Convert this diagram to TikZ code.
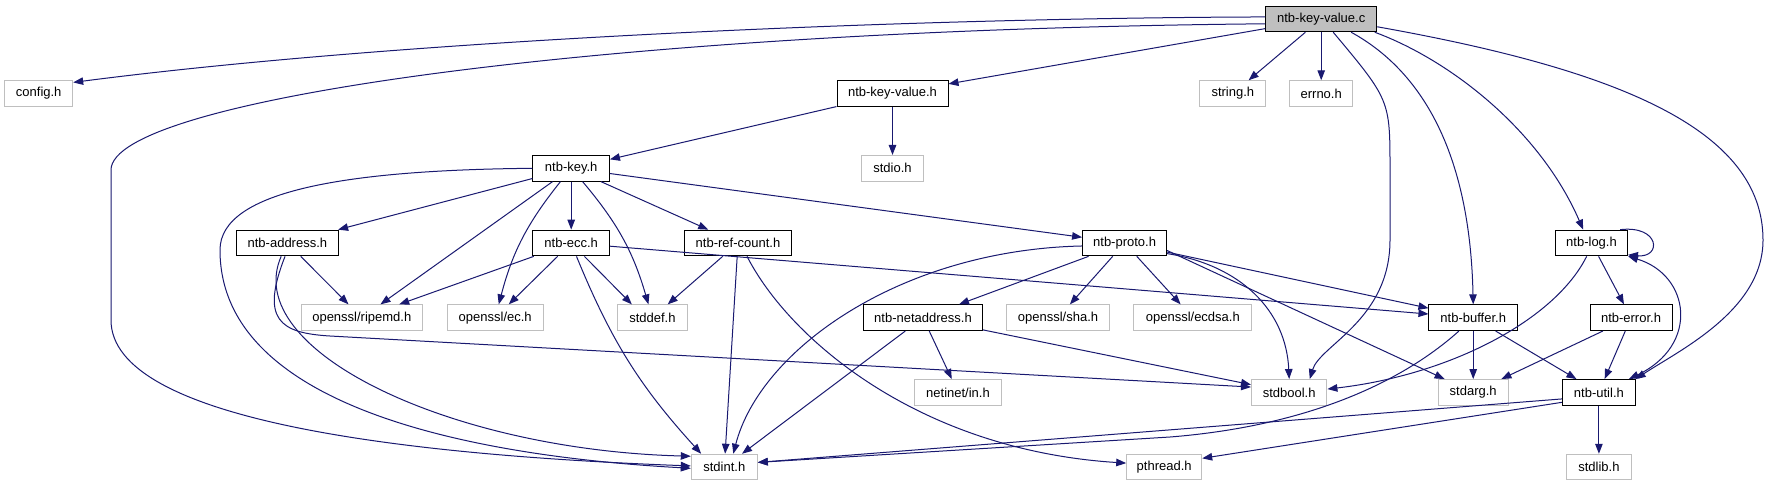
\documentclass[tikz,border=0pt]{standalone}
\usepackage{fontspec}
\setmainfont{Liberation Sans}
\usepackage{tikz}
\usetikzlibrary{arrows.meta,positioning}
\definecolor{edge}{HTML}{191970}
\definecolor{extgrey}{HTML}{BFBFBF}
\tikzset{
  >={Triangle[length=10pt,width=7.5pt]},
  dep/.style={->,draw=edge,line width=1pt},
  hdr/.style={draw=black,line width=1pt,fill=white,minimum height=25.7pt,
    inner sep=0pt,font=\fontsize{13}{15}\selectfont},
  exthdr/.style={hdr,draw=extgrey},
  curhdr/.style={hdr,fill=extgrey}
}
\begin{document}
\begin{tikzpicture}[x=1pt,y=1pt,on grid]
  \path[use as bounding box,fill=white] (0,0) rectangle (1766,-485);
  \node[curhdr,minimum width=111pt] (kvc) at (1321.2,-18.9) {ntb-key-value.c};
  \node[exthdr,minimum width=68pt,below left=74.7pt and 1282.5pt of kvc] (config) {config.h};
  \node[hdr,minimum width=111pt,right=853.8pt of config] (kvh) {ntb-key-value.h};
  \node[exthdr,minimum width=66pt,right=340.3pt of kvh] (strh) {string.h};
  \node[exthdr,minimum width=63pt,below=74.7pt of kvc] (errno) {errno.h};
  \node[exthdr,minimum width=62pt,below=74.7pt of kvh] (stdio) {stdio.h};
  \node[hdr,minimum width=76.5pt,below left=74.7pt and 321.3pt of kvh] (key) {ntb-key.h};
  \node[hdr,minimum width=76.5pt,below=74.7pt of key] (ecc) {ntb-ecc.h};
  \node[hdr,minimum width=102pt,left=283.8pt of ecc] (addr) {ntb-address.h};
  \node[hdr,minimum width=107pt,right=166.8pt of ecc] (refc) {ntb-ref-count.h};
  \node[hdr,minimum width=84pt,right=386.6pt of refc] (proto) {ntb-proto.h};
  \node[hdr,minimum width=72pt,right=466.9pt of proto] (log) {ntb-log.h};
  \node[exthdr,minimum width=121pt,below right=74.7pt and 74.4pt of addr] (ripemd) {openssl/ripemd.h};
  \node[exthdr,minimum width=96pt,right=133.4pt of ripemd] (ec) {openssl/ec.h};
  \node[exthdr,minimum width=70pt,right=157.2pt of ec] (stddef) {stddef.h};
  \node[hdr,minimum width=119pt,right=270.6pt of stddef] (netaddr) {ntb-netaddress.h};
  \node[exthdr,minimum width=103pt,right=135pt of netaddr] (sha) {openssl/sha.h};
  \node[exthdr,minimum width=118pt,right=134.8pt of sha] (ecdsa) {openssl/ecdsa.h};
  \node[hdr,minimum width=88.5pt,right=280.4pt of ecdsa] (buffer) {ntb-buffer.h};
  \node[hdr,minimum width=82pt,right=157.8pt of buffer] (error) {ntb-error.h};
  \node[exthdr,minimum width=86.5pt,below right=74.7pt and 35pt of netaddr] (netin) {netinet/in.h};
  \node[exthdr,minimum width=75.4pt,right=331.2pt of netin] (stdbool) {stdbool.h};
  \node[exthdr,minimum width=70pt,below=74.7pt of buffer] (stdarg) {stdarg.h};
  \node[hdr,minimum width=73pt,right=125.7pt of stdarg] (util) {ntb-util.h};
  \node[exthdr,minimum width=66pt,below left=74.7pt and 233.7pt of netin] (stdint) {stdint.h};
  \node[exthdr,minimum width=75pt,right=439.9pt of stdint] (pthread) {pthread.h};
  \node[exthdr,minimum width=65pt,below=74.7pt of util] (stdlib) {stdlib.h};
  \draw[dep] (kvc.178) .. controls (900,-18) and (400,-40) .. (config.18);
  \draw[dep] (kvc.185) .. controls (600,-30) and (111,-100) .. (111,-170) -- (111,-320) .. controls (111,-420) and (400,-455) .. (stdint.178);
  \draw[dep] (kvc) -- (kvh);
  \draw[dep] (kvc) -- (strh);
  \draw[dep] (kvc) -- (errno);
  \draw[dep] (kvc.-48) .. controls (1390,-100) .. (1390,-170) -- (1390,-240) .. controls (1390,-320) and (1320,-345) .. (stdbool.33);
  \draw[dep] (kvc.-24) .. controls (1420,-70) and (1470,-150) .. (buffer.north);
  \draw[dep] (kvc.-14) .. controls (1450,-60) and (1540,-130) .. (log.122);
  \draw[dep] (kvc.-8) .. controls (1620,-70) and (1763,-130) .. (1763,-240) .. controls (1763,-310) and (1680,-350) .. (util.20);
  \draw[dep] (kvh) -- (key);
  \draw[dep] (kvh) -- (stdio);
  \draw[dep] (key.west) .. controls (350,-170) and (220,-190) .. (220,-250) .. controls (220,-400) and (450,-455) .. (stdint.182);
  \draw[dep] (key) -- (addr);
  \draw[dep] (key) -- (ripemd);
  \draw[dep] (key) to[bend right=12] (ec);
  \draw[dep] (key) -- (ecc);
  \draw[dep] (key) to[bend left=12] (stddef);
  \draw[dep] (key) -- (refc);
  \draw[dep] (key) -- (proto);
  \draw[dep] (addr) -- (ripemd);
  \draw[dep] (addr.-115) .. controls (240,-350) and (450,-450) .. (stdint.162);
  \draw[dep] (addr.-100) .. controls (260,-320) and (280,-333) .. (330,-336) -- (stdbool.172);
  \draw[dep] (ecc) -- (ripemd);
  \draw[dep] (ecc) -- (ec);
  \draw[dep] (ecc) -- (stddef.147);
  \draw[dep] (ecc) to[bend right=10] (stdint.150);
  \draw[dep] (ecc) -- (buffer);
  \draw[dep] (refc) -- (stddef);
  \draw[dep] (refc) -- (stdint);
  \draw[dep] (refc.-56) .. controls (790,-340) and (920,-450) .. (pthread.174);
  \draw[dep] (proto.184) .. controls (900,-250) and (760,-350) .. (stdint.56);
  \draw[dep] (proto) -- (netaddr);
  \draw[dep] (proto) -- (sha);
  \draw[dep] (proto) -- (ecdsa);
  \draw[dep] (proto.-14) .. controls (1240,-265) and (1286,-310) .. (stdbool.north);
  \draw[dep] (proto.-10) -- (stdarg.155);
  \draw[dep] (proto) -- (buffer);
  \draw[dep] (netaddr) -- (stdint);
  \draw[dep] (netaddr) -- (netin);
  \draw[dep] (netaddr) -- (stdbool);
  \draw[dep] (buffer.-137) .. controls (1410,-375) and (1320,-425) .. (1170,-437) -- (stdint.8);
  \draw[dep] (buffer) -- (stdarg);
  \draw[dep] (buffer) -- (util);
  \draw[dep] (log.25) .. controls (1660,-225) and (1662,-258) .. (log.-18);
  \draw[dep] (log.-110) .. controls (1555,-320) and (1450,-375) .. (stdbool.5);
  \draw[dep] (log) -- (error);
  \draw[dep,<->] (log.-20) .. controls (1690,-275) and (1700,-345) .. (util.24);
  \draw[dep] (error) -- (stdarg);
  \draw[dep] (error) -- (util);
  \draw[dep] (util.190) -- (stdint.8);
  \draw[dep] (util.195) -- (pthread.13);
  \draw[dep] (util) -- (stdlib);
\end{tikzpicture}
\end{document}
